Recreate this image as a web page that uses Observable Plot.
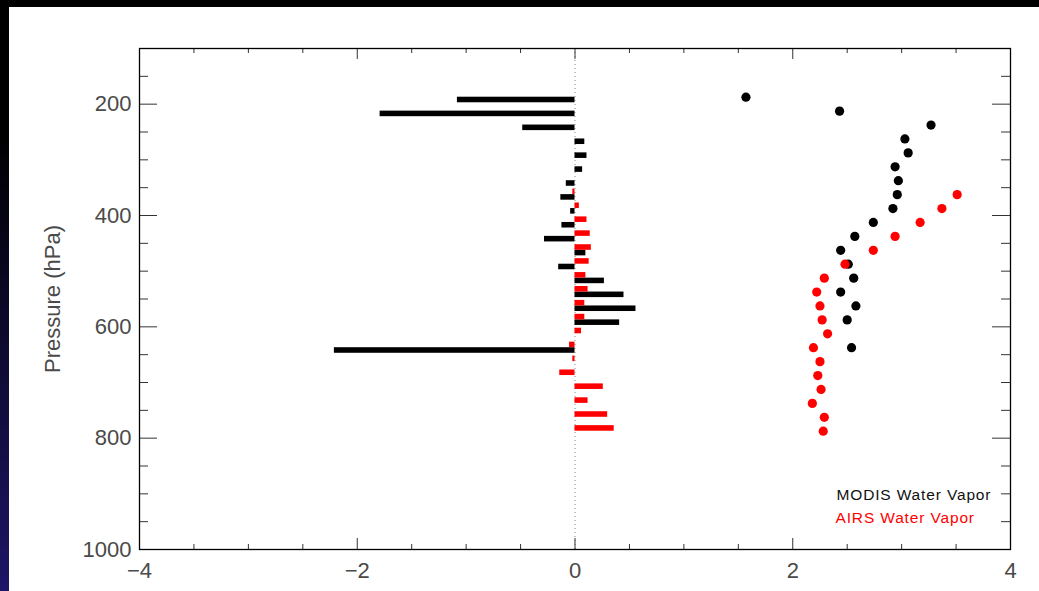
<!DOCTYPE html>
<html><head><meta charset="utf-8">
<script src="https://cdn.jsdelivr.net/npm/d3@7"></script>
<script src="https://cdn.jsdelivr.net/npm/@observablehq/plot@0.6"></script>
<style>
html,body{margin:0;padding:0;width:1039px;height:591px;overflow:hidden;background:linear-gradient(to bottom,#000 0%,#000 22%,#1d1566 100%);}
#panel{position:absolute;left:9px;top:7px;width:1030px;height:584px;background:#fff;}
#chart{position:absolute;left:0;top:0;}
.legend text{letter-spacing:0.85px;}
</style></head><body><div id="panel"></div><div id="chart"></div>
<script>
// ---- data ----
const modisLevels = [187.5, 212.5, 237.5, 262.5, 287.5, 312.5, 337.5, 362.5, 387.5, 412.5, 437.5, 462.5, 487.5, 512.5, 537.5, 562.5, 587.5, 637.5];
const modisBar   = [-1.08, -1.79, -0.48, 0.09, 0.11, 0.07, -0.08, -0.13, -0.04, -0.12, -0.28, 0.10, -0.15, 0.27, 0.45, 0.56, 0.41, -2.21];
const modisDot   = [1.57, 2.43, 3.27, 3.03, 3.06, 2.94, 2.97, 2.96, 2.92, 2.74, 2.57, 2.44, 2.51, 2.56, 2.44, 2.58, 2.50, 2.54];

const airsLevels = [362.5, 387.5, 412.5, 437.5, 462.5, 487.5, 512.5, 537.5, 562.5, 587.5, 612.5, 637.5, 662.5, 687.5, 712.5, 737.5, 762.5, 787.5];
const airsBar    = [-0.02, 0.04, 0.11, 0.14, 0.15, 0.13, 0.10, 0.12, 0.09, 0.09, 0.06, -0.05, -0.02, -0.14, 0.26, 0.12, 0.30, 0.36];
const airsDot    = [3.51, 3.37, 3.17, 2.94, 2.74, 2.48, 2.29, 2.22, 2.25, 2.27, 2.32, 2.19, 2.25, 2.23, 2.26, 2.18, 2.29, 2.28];

const xMajor = [-4, -2, 0, 2, 4];
const xMinor = [-3.5, -3, -2.5, -1.5, -1, -0.5, 0.5, 1, 1.5, 2.5, 3, 3.5];
const yMajor = [200, 400, 600, 800, 1000];
const yMinor = [150, 250, 300, 350, 450, 500, 550, 650, 700, 750, 850, 900, 950];
const yLabel = "Pressure (hPa)";
const legendModis = "MODIS Water Vapor";
const legendAirs = "AIRS Water Vapor";

// ---- build tables ----
const modis = modisLevels.map((p, i) => ({p, bar: modisBar[i], dot: modisDot[i]}));
const airs = airsLevels.map((p, i) => ({p, bar: airsBar[i], dot: airsDot[i]}));

const W = 1039, H = 591, mL = 139, mT = 48, mR = 29, mB = 42;
const xPerPx = 8 / (W - mL - mR), yPerPx = 900 / (H - mT - mB);
const barSpan = 10; // hPa thickness of each bar
const font = "'Liberation Sans', Arial, sans-serif";
const tickColor = "#333";
const labelColor = "#4a4a4a";
const minus = d => d < 0 ? "\u2212" + Math.abs(d) : String(d);

const plot = Plot.plot({
  width: W, height: H,
  marginLeft: mL, marginTop: mT, marginRight: mR, marginBottom: mB,
  style: {background: "transparent", fontFamily: font, overflow: "visible"},
  x: {domain: [-4, 4], axis: null},
  y: {domain: [1000, 100], axis: null},
  marks: [
    Plot.ruleX([0], {stroke: "#888", strokeDasharray: "1,3"}),
    Plot.rect(modis, {x1: 0, x2: "bar", y1: d => d.p, y2: d => d.p + barSpan, fill: "black"}),
    Plot.rect(airs, {x1: 0, x2: "bar", y1: d => d.p - barSpan, y2: d => d.p, fill: "red"}),
    Plot.dot(modis, {x: "dot", y: "p", r: 4.6, fill: "black"}),
    Plot.dot(airs, {x: "dot", y: "p", r: 4.6, fill: "red"}),
    // inward tick marks
    Plot.ruleY(yMajor, {y: d => d, x1: -4, x2: -4 + 18 * xPerPx, stroke: tickColor}),
    Plot.ruleY(yMinor, {y: d => d, x1: -4, x2: -4 + 9 * xPerPx, stroke: tickColor}),
    Plot.ruleY(yMajor, {y: d => d, x1: 4 - 18 * xPerPx, x2: 4, stroke: tickColor}),
    Plot.ruleY(yMinor, {y: d => d, x1: 4 - 9 * xPerPx, x2: 4, stroke: tickColor}),
    Plot.ruleX(xMajor, {x: d => d, y1: 1000, y2: 1000 - 11 * yPerPx, stroke: tickColor}),
    Plot.ruleX(xMinor, {x: d => d, y1: 1000, y2: 1000 - 5 * yPerPx, stroke: tickColor}),
    Plot.ruleX(xMajor, {x: d => d, y1: 100, y2: 100 + 11 * yPerPx, stroke: tickColor}),
    Plot.ruleX(xMinor, {x: d => d, y1: 100, y2: 100 + 5 * yPerPx, stroke: tickColor}),
    Plot.frame({stroke: "black", strokeWidth: 1.3}),
    // tick labels
    Plot.axisX({anchor: "bottom", ticks: xMajor, tickSize: 0, tickPadding: 13, tickFormat: minus,
                fontSize: 22, fill: labelColor, label: null}),
    Plot.axisY({anchor: "left", ticks: yMajor, tickSize: 0, tickPadding: 8, tickFormat: d => String(d),
                fontSize: 22, fill: labelColor, label: null}),
    Plot.text([yLabel], {frameAnchor: "left", dx: -87, rotate: -90, textAnchor: "middle", lineAnchor: "middle",
                         fontSize: 22, fill: labelColor, fontFamily: font}),
    // legend
    Plot.text([legendModis], {frameAnchor: "top-left", dx: 697, dy: 451, lineAnchor: "bottom", textAnchor: "start",
                              fontSize: 15.5, fill: "#111", fontFamily: font, className: "legend"}),
    Plot.text([legendAirs], {frameAnchor: "top-left", dx: 696, dy: 474, lineAnchor: "bottom", textAnchor: "start",
                             fontSize: 15.5, fill: "red", fontFamily: font, className: "legend"})
  ]
});
document.getElementById("chart").appendChild(plot);
</script>
</body></html>
